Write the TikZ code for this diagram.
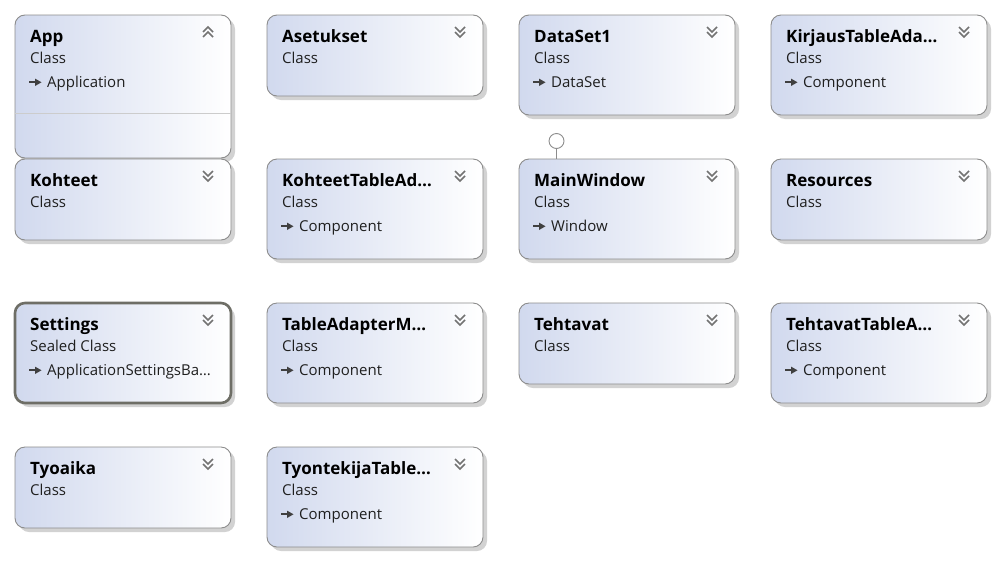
\documentclass[tikz,border=0pt]{standalone}
\usepackage{fontspec}
\setmainfont{Open Sans}
\definecolor{boxleft}{HTML}{D1D9EE}
\definecolor{boxborder}{HTML}{8C8C8C}
\definecolor{shadowc}{HTML}{D2D2D2}
\definecolor{sealedborder}{HTML}{6E6E66}
\tikzset{
 cls/.style={draw=boxborder, line width=0.9pt, rounded corners=10pt, left color=boxleft, right color=white, minimum width=216pt, anchor=north west, inner sep=0pt, outer sep=0pt},
 ttl/.style={anchor=base west, font=\bfseries\fontsize{17}{19}\selectfont, inner sep=0pt, text=black},
 sub/.style={anchor=base west, font=\fontsize{15}{17}\selectfont, inner sep=0pt, text=black!88},
 chev/.style={draw=black!55, line width=1.5pt},
 inh/.style={draw=black!75, line width=1.7pt},
 lolli/.style={circle, draw=boxborder, fill=white, line width=0.9pt, minimum size=15pt, inner sep=0pt},
}
\newcommand{\cbox}[6]{%
 \fill[shadowc, rounded corners=10pt] (#2+4,#3+4) rectangle ++(216,#4);
 \node[cls, minimum height=#4pt] (#1) at (#2,#3) {};
 \node[ttl] (#1-t) at ([xshift=15pt,yshift=-27pt]#1.north west) {#5};
 \node[sub] (#1-k) at ([xshift=15pt,yshift=-48.5pt]#1.north west) {#6};
}
\newcommand{\cbase}[2]{%
 \draw[inh] ([xshift=14pt,yshift=-67.3pt]#1.north west) -- ++(7pt,0pt);
 \fill[black!75] ([xshift=20pt,yshift=-63.6pt]#1.north west) -- ++(6.5pt,-3.7pt) -- ++(-6.5pt,-3.7pt) -- cycle;
 \node[sub] (#1-b) at ([xshift=32pt,yshift=-72.5pt]#1.north west) {#2};
}
\newcommand{\chevdown}[1]{%
 \draw[chev] ([xshift=-28pt,yshift=-12pt]#1.north east) -- ++(5pt,-5pt) -- ++(5pt,5pt);
 \draw[chev] ([xshift=-28pt,yshift=-17pt]#1.north east) -- ++(5pt,-5pt) -- ++(5pt,5pt);
}
\newcommand{\chevup}[1]{%
 \draw[chev] ([xshift=-28pt,yshift=-17pt]#1.north east) -- ++(5pt,5pt) -- ++(5pt,-5pt);
 \draw[chev] ([xshift=-28pt,yshift=-22pt]#1.north east) -- ++(5pt,5pt) -- ++(5pt,-5pt);
}
\begin{document}
\begin{tikzpicture}[x=1pt,y=-1pt]
\useasboundingbox[fill=white] (0,0) rectangle (1000,560);
% row 1
\cbox{app}{15}{15}{143}{App}{Class}
\draw[black!20, line width=0.9pt] ([yshift=-98pt]app.north west) -- ([yshift=-98pt]app.north east);
\cbase{app}{Application}
\chevup{app}
\cbox{asetukset}{267}{15}{81}{Asetukset}{Class}
\chevdown{asetukset}
\cbox{dataset}{519}{15}{100}{DataSet1}{Class}
\cbase{dataset}{DataSet}
\chevdown{dataset}
\cbox{kirjaus}{771}{15}{100}{KirjausTableAda…}{Class}
\cbase{kirjaus}{Component}
\chevdown{kirjaus}
% row 2
\cbox{kohteet}{15}{159}{81}{Kohteet}{Class}
\chevdown{kohteet}
\cbox{kohteetta}{267}{159}{100}{KohteetTableAd…}{Class}
\cbase{kohteetta}{Component}
\chevdown{kohteetta}
\cbox{mainwindow}{519}{159}{100}{MainWindow}{Class}
\cbase{mainwindow}{Window}
\chevdown{mainwindow}
\cbox{resources}{771}{159}{81}{Resources}{Class}
\chevdown{resources}
\node[lolli] (lol) at (556.5,141) {};
\draw[boxborder, line width=0.9pt] (lol.south) -- (lol.south |- mainwindow.north);
% row 3
\fill[shadowc, rounded corners=10pt] (15+4,303+4) rectangle ++(216,100);
\node[cls, draw=sealedborder, line width=2.6pt, minimum height=100pt] (settings) at (15,303) {};
\node[ttl] (settings-t) at ([xshift=15pt,yshift=-27pt]settings.north west) {Settings};
\node[sub] (settings-k) at ([xshift=15pt,yshift=-48.5pt]settings.north west) {Sealed Class};
\cbase{settings}{ApplicationSettingsBa…}
\chevdown{settings}
\cbox{tableadapter}{267}{303}{100}{TableAdapterM…}{Class}
\cbase{tableadapter}{Component}
\chevdown{tableadapter}
\cbox{tehtavat}{519}{303}{81}{Tehtavat}{Class}
\chevdown{tehtavat}
\cbox{tehtavatta}{771}{303}{100}{TehtavatTableA…}{Class}
\cbase{tehtavatta}{Component}
\chevdown{tehtavatta}
% row 4
\cbox{tyoaika}{15}{447}{81}{Tyoaika}{Class}
\chevdown{tyoaika}
\cbox{tyontekija}{267}{447}{100}{TyontekijaTable…}{Class}
\cbase{tyontekija}{Component}
\chevdown{tyontekija}
\end{tikzpicture}
\end{document}
